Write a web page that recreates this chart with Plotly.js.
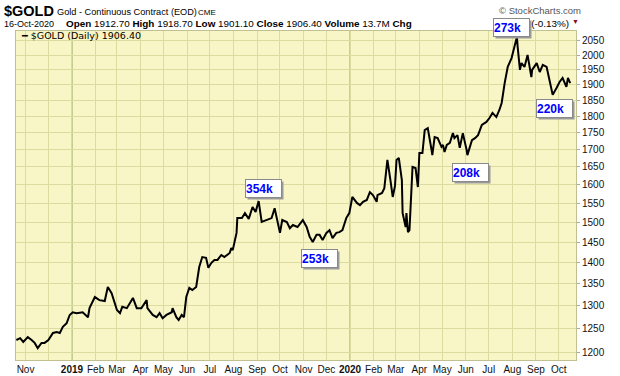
<!DOCTYPE html>
<html>
<head>
<meta charset="utf-8">
<script src="https://cdn.plot.ly/plotly-3.0.1.min.js"></script>
<style>html,body{margin:0;padding:0;background:#fff;}#chart{width:620px;height:376px;}</style>
</head>
<body>
<div id="chart"></div>
<script>
// ---- data ----
const symbol = '$GOLD';
const dates = [
'2018-10-20','2018-10-25','2018-10-29','2018-11-04','2018-11-09','2018-11-13','2018-11-17','2018-11-22','2018-11-26','2018-12-01','2018-12-07','2018-12-12','2018-12-16','2018-12-20','2018-12-25','2018-12-29',
'2019-01-02','2019-01-07','2019-01-15','2019-01-22','2019-01-24','2019-01-31','2019-02-06','2019-02-13','2019-02-17','2019-02-22','2019-03-01','2019-03-05','2019-03-08','2019-03-14','2019-03-22','2019-03-27','2019-04-02','2019-04-09','2019-04-10','2019-04-17','2019-04-22','2019-04-26','2019-04-30','2019-05-05','2019-05-12','2019-05-13','2019-05-18','2019-05-21','2019-05-25','2019-05-28','2019-05-31','2019-06-04','2019-06-08','2019-06-13','2019-06-17','2019-06-21','2019-06-26','2019-06-29','2019-07-03','2019-07-07','2019-07-11','2019-07-16','2019-07-20','2019-07-27','2019-07-29','2019-07-31','2019-08-05','2019-08-06','2019-08-12','2019-08-16','2019-08-21','2019-08-26','2019-08-30','2019-09-03','2019-09-07','2019-09-13','2019-09-20','2019-09-24','2019-09-28','2019-10-01','2019-10-04','2019-10-10','2019-10-14','2019-10-18','2019-10-24','2019-10-31','2019-11-05','2019-11-09','2019-11-13','2019-11-18','2019-11-22','2019-11-26','2019-12-01','2019-12-05','2019-12-09','2019-12-14','2019-12-18','2019-12-22','2019-12-27','2019-12-31',
'2020-01-04','2020-01-10','2020-01-14','2020-01-18','2020-01-23','2020-01-27','2020-01-31','2020-02-05','2020-02-06','2020-02-12','2020-02-15','2020-02-19','2020-02-23','2020-02-26','2020-02-29','2020-03-02','2020-03-05','2020-03-09','2020-03-10','2020-03-14','2020-03-15','2020-03-17','2020-03-19','2020-03-22','2020-03-23','2020-03-27','2020-03-30','2020-04-01','2020-04-05','2020-04-08','2020-04-12','2020-04-17','2020-04-18','2020-04-21','2020-04-25','2020-04-30','2020-05-02','2020-05-04','2020-05-07','2020-05-11','2020-05-15','2020-05-17','2020-05-21','2020-05-24','2020-05-28','2020-06-02','2020-06-03','2020-06-09','2020-06-13','2020-06-17','2020-06-22','2020-06-28','2020-07-02','2020-07-06','2020-07-11','2020-07-15','2020-07-18','2020-07-22','2020-07-26','2020-07-31','2020-08-04','2020-08-07','2020-08-08','2020-08-11','2020-08-13','2020-08-17','2020-08-21','2020-08-26','2020-08-27','2020-09-02','2020-09-06','2020-09-10','2020-09-15','2020-09-19','2020-09-23','2020-09-28','2020-10-02','2020-10-06','2020-10-11','2020-10-13','2020-10-16'
];
const closes = [
1225,1229,1221,1231,1225,1219,1208,1219,1219,1225,1240,1242,1240,1253,1261,1279,
1285,1283,1285,1274,1294,1319,1312,1310,1342,1328,1290,1283,1297,1294,1317,1294,1294,1312,1294,1279,1274,1283,1272,1279,1285,1294,1274,1268,1279,1274,1319,1340,1335,1342,1389,1413,1411,1387,1399,1406,1406,1418,1413,1423,1435,1430,1473,1511,1511,1524,1509,1540,1527,1556,1501,1506,1511,1537,1498,1473,1506,1501,1485,1493,1488,1506,1488,1463,1450,1468,1468,1455,1473,1480,1460,1473,1475,1480,1511,1524,
1567,1551,1545,1554,1559,1580,1572,1554,1572,1578,1591,1670,1613,1567,1597,1670,1676,1613,1524,1488,1524,1475,1480,1586,1650,1647,1594,1690,1690,1758,1764,1699,1684,1737,1734,1708,1714,1693,1714,1720,1749,1734,1743,1705,1749,1699,1684,1728,1734,1743,1774,1783,1795,1811,1798,1820,1842,1907,1960,1990,2036,2064,2029,1950,1973,1960,2001,1926,1950,1973,1943,1967,1960,1910,1868,1890,1910,1923,1894,1923,1906.40
];
const tickDates = ['2018-11-01','2018-12-01','2019-01-01','2019-02-01','2019-03-01','2019-04-01','2019-05-01','2019-06-01','2019-07-01','2019-08-01','2019-09-01','2019-10-01','2019-11-01','2019-12-01','2020-01-01','2020-02-01','2020-03-01','2020-04-01','2020-05-01','2020-06-01','2020-07-01','2020-08-01','2020-09-01','2020-10-01'];
const tickLabels = ['Nov','','<b>2019</b>','Feb','Mar','Apr','May','Jun','Jul','Aug','Sep','Oct','Nov','Dec','<b>2020</b>','Feb','Mar','Apr','May','Jun','Jul','Aug','Sep','Oct'];
const yearStarts = ['2019-01-01','2020-01-01'];
const priceTicks = [1200,1250,1300,1350,1400,1450,1500,1550,1600,1650,1700,1750,1800,1850,1900,1950,2000,2050];
// volume call-outs
const calloutDates = ['2019-09-09','2019-11-22','2020-06-07','2020-07-31','2020-09-26'];
const calloutLabels = ['354k','253k','208k','273k','220k'];
const quote = {date:'16-Oct-2020', open:'1912.70', high:'1918.70', low:'1901.10', close:'1906.40', volume:'13.7M', chg:'-2.40 (-0.13%)'};

// ---- layout helpers ----
const W = 620, H = 376, ML = 16, MR = 44, MT = 31, MB = 16;
const PW = W - ML - MR, PH = H - MT - MB;
const px = x => (x - ML) / PW;
const py = y => (H - MB - y) / PH;
const SANS = '"Liberation Sans", Arial, sans-serif';
const calloutPixelY = [188, 258, 172, 27, 109];

const annotations = [];
function txt(x, y, text, size, opts) {
  annotations.push(Object.assign({xref:'paper', yref:'paper', x:px(x), y:py(y), text:text, showarrow:false,
    xanchor:'left', yanchor:'middle', font:{family:SANS, size:size, color:'#000'}}, opts || {}));
}
txt(2, 11, '<b>' + symbol + '</b>', 14.5);
txt(55, 12, 'Gold - Continuous Contract (EOD)', 9.2);
txt(196, 12.5, 'CME', 8);
txt(583, 10, '© StockCharts.com', 9.5, {xanchor:'right', font:{family:SANS, size:9.5, color:'#555'}});
txt(2, 23.5, quote.date, 9);
txt(64, 23, '<b>Open</b> ' + quote.open + ' <b>High</b> ' + quote.high + ' <b>Low</b> ' + quote.low +
  ' <b>Close</b> ' + quote.close + ' <b>Volume</b> ' + quote.volume + ' <b>Chg</b>', 9.9);
txt(571, 23, quote.chg, 9.9, {xanchor:'right'});
txt(581, 22, '▼', 7, {xanchor:'right', font:{family:SANS, size:7, color:'#8b0a2a'}});
txt(19, 36, '━ ' + symbol + ' (Daily) ' + quote.close, 9.5, {font:{family:'"DejaVu Sans", Verdana, sans-serif', size:9.5, color:'#000'}});

calloutDates.forEach((d, i) => {
  const base = {xref:'x', yref:'paper', x:d, y:py(calloutPixelY[i]), showarrow:false,
    width:35, height:17, borderpad:0, align:'left', xanchor:'center', yanchor:'middle'};
  annotations.push(Object.assign({}, base, {text:' ', bgcolor:'#9a9a9a', xshift:2, yshift:-2}));
  annotations.push(Object.assign({}, base, {text:'<b>' + calloutLabels[i] + '</b>', bgcolor:'#ffffff',
    bordercolor:'#8a8a8a', borderwidth:1, font:{family:SANS, size:12, color:'#0000ff'}}));
});

const shapes = yearStarts.map(d => ({type:'line', xref:'x', yref:'paper', x0:d, x1:d, y0:0, y1:1,
  line:{color:'#b7bf7a', width:1.5}, layer:'below'}));

const trace = {x:dates, y:closes, type:'scatter', mode:'lines', line:{color:'#000', width:2}, hoverinfo:'skip', showlegend:false};

const layout = {
  width:W, height:H, margin:{l:ML, r:MR, t:MT, b:MB, pad:0},
  paper_bgcolor:'#ffffff', plot_bgcolor:'#f8f6c6',
  showlegend:false,
  xaxis:{type:'date', range:['2018-10-19 12:00','2020-10-23 14:00'], tickmode:'array', tickvals:tickDates, ticktext:tickLabels,
    showgrid:true, gridcolor:'#dcdba0', gridwidth:1, zeroline:false, ticks:'', tickangle:0,
    tickfont:{family:SANS, size:10, color:'#111'}, showline:true, linecolor:'#c0c090', mirror:true, fixedrange:true},
  yaxis:{type:'log', side:'right', range:[Math.log10(1183.6), Math.log10(2085)], tickmode:'array', tickvals:priceTicks,
    ticktext:priceTicks.map(String), showgrid:true, gridcolor:'#dcdba0', gridwidth:1, zeroline:false,
    ticks:'outside', ticklen:3, tickcolor:'#aaaaaa', tickfont:{family:SANS, size:10, color:'#111'},
    showline:true, linecolor:'#c0c090', mirror:true, fixedrange:true},
  annotations:annotations, shapes:shapes
};
Plotly.newPlot('chart', [trace], layout, {staticPlot:true, displayModeBar:false});
</script>
</body>
</html>
